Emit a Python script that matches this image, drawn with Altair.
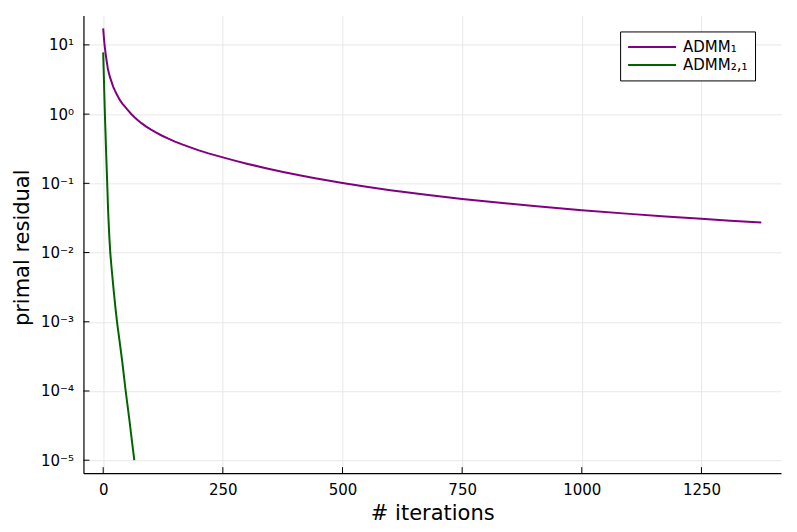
import math
import altair as alt
import pandas as pd

# ---- data ----
iters_admm1 = [0, 1, 2, 3, 4, 5, 7, 10, 14, 18, 21, 25, 28, 35, 40, 45, 52, 59, 66, 73, 80,
               90, 100, 110, 122, 135, 150, 165, 185, 200, 220, 250, 275, 300, 340, 376,
               410, 440, 470, 500, 550, 600, 675, 750, 808, 900, 1000, 1100, 1175, 1250,
               1310, 1375]
resid_admm1 = [17.3, 14.0, 11.5, 9.8, 8.6, 7.5, 6.0, 4.4, 3.45, 2.85, 2.48, 2.15, 1.95, 1.59,
               1.42, 1.29, 1.13, 0.995, 0.892, 0.809, 0.740, 0.660, 0.596, 0.543, 0.491,
               0.445, 0.401, 0.365, 0.325, 0.2996, 0.271, 0.237, 0.213, 0.1922, 0.1654,
               0.1459, 0.1306, 0.1193, 0.1095, 0.101, 0.0892, 0.0797, 0.0684, 0.0596,
               0.0541, 0.0470, 0.0410, 0.0362, 0.0332, 0.0307, 0.0289, 0.0271]

iters_admm21 = [0, 1, 2, 3, 4, 5, 6, 7, 8, 9, 10, 11, 12, 13, 15, 18, 22, 26, 29, 35, 40,
                47, 55, 60, 65]
resid_admm21 = [7.8, 4.4, 2.4, 1.35, 0.8, 0.5, 0.3, 0.19, 0.12, 0.075, 0.045, 0.031, 0.022,
                0.016, 0.0095, 0.0055, 0.0028, 0.0015, 0.00098, 0.00048, 0.00026, 0.0001,
                3.7e-5, 1.9e-5, 1.0e-5]

series_names = ["ADMM₁", "ADMM₂,₁"]
series_colors = ["#800080", "#006400"]

x_ticks = [0, 250, 500, 750, 1000, 1250]
y_ticks = [1e1, 1e0, 1e-1, 1e-2, 1e-3, 1e-4, 1e-5]
y_exps = [1, 0, -1, -2, -3, -4, -5]
y_tick_labels = ["10¹", "10⁰", "10⁻¹", "10⁻²", "10⁻³", "10⁻⁴", "10⁻⁵"]

df = pd.concat([
    pd.DataFrame({"iter": iters_admm1, "resid": resid_admm1, "series": series_names[0]}),
    pd.DataFrame({"iter": iters_admm21, "resid": resid_admm21, "series": series_names[1]}),
])

# axis limits with 3% margins (as the source plotting library does)
xmin, xmax = df["iter"].min(), df["iter"].max()
xspan = xmax - xmin
xdom = [xmin - 0.03 * xspan, xmax + 0.03 * xspan]
lmin, lmax = math.log10(df["resid"].min()), math.log10(df["resid"].max())
lspan = lmax - lmin
ydom = [10 ** (lmin - 0.03 * lspan), 10 ** (lmax + 0.03 * lspan)]

W, H = 698, 458
FONT = "DejaVu Sans"

label_map = ",".join(f"'{e}':'{l}'" for e, l in zip(y_exps, y_tick_labels))
label_expr = "{" + label_map + "}['' + round(log(datum.value)/LN10)]"

xscale = alt.Scale(domain=xdom, nice=False, zero=False)
yscale = alt.Scale(type="log", domain=ydom, nice=False)

xaxis = alt.Axis(values=x_ticks, title="# iterations", format="d",
                 titleX=W / 2, titleY=46, titleBaseline="alphabetic")
yaxis = alt.Axis(values=y_ticks, title="primal residual", labelExpr=label_expr,
                 titleX=-55, titleY=H / 2 + 3, titleBaseline="alphabetic")

lines = alt.Chart(df).mark_line(strokeWidth=2, clip=True).encode(
    x=alt.X("iter:Q", scale=xscale, axis=xaxis),
    y=alt.Y("resid:Q", scale=yscale, axis=yaxis),
    color=alt.Color("series:N",
                    scale=alt.Scale(domain=series_names, range=series_colors),
                    legend=alt.Legend(title=None, orient="none", legendX=537, legendY=16,
                                      strokeColor="black", fillColor="white", padding=7,
                                      symbolType="M-1,0H5.4", symbolStrokeWidth=2,
                                      symbolSize=225, labelFontSize=15, labelFont=FONT,
                                      labelOffset=39, rowPadding=1, cornerRadius=0)),
    order="iter:Q",
)

xt = alt.Chart(pd.DataFrame({"t": x_ticks})).mark_rule(color="black", strokeWidth=1).encode(
    x=alt.X("t:Q", scale=xscale, axis=xaxis),
    y=alt.value(H), y2=alt.value(H - 6),
)
yt = alt.Chart(pd.DataFrame({"t": y_ticks})).mark_rule(color="black", strokeWidth=1).encode(
    y=alt.Y("t:Q", scale=yscale, axis=yaxis),
    x=alt.value(0), x2=alt.value(6),
)

chart = alt.layer(lines, xt, yt).properties(
    width=W, height=H,
    autosize=alt.AutoSizeParams(type="none"),
    padding={"left": 75.5, "top": 7.3, "right": 8, "bottom": 50.5},
).configure_view(stroke=None).configure_axis(
    domainColor="black", domainWidth=1.2, tickSize=0,
    gridColor="#e8e8e8", gridWidth=1,
    labelFont=FONT, labelFontSize=15, labelColor="black", labelPadding=9,
    titleFont=FONT, titleFontSize=21, titleFontWeight="normal", titleColor="black",
).configure_axisY(labelPadding=10)

chart.save("out.html", embed_options={"renderer": "svg", "actions": False})
